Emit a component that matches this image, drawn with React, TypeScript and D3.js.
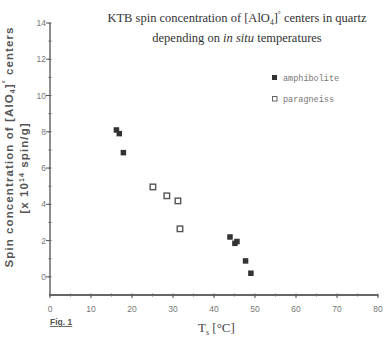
import React from "react";
import * as d3 from "d3";

// amphibolite (filled squares): [Ts °C, spin conc. x10^14]
const amphT = [16.2, 16.9, 17.9, 43.9, 45.1, 45.6, 47.7, 49.0];
const amphC = [8.1, 7.9, 6.85, 2.2, 1.85, 1.95, 0.88, 0.2];
// paragneiss (open squares)
const paraT = [25.1, 28.5, 31.2, 31.7];
const paraC = [4.96, 4.47, 4.19, 2.65];

const xTicks = [0, 10, 20, 30, 40, 50, 60, 70, 80];
const yTicks = [0, 2, 4, 6, 8, 10, 12, 14];

const W = 386;
const H = 340;

const App = () => {
    const x = d3.scaleLinear().domain([0, 80]).range([50, 378]);
    const y = d3.scaleLinear().domain([-1, 14]).range([295, 23]);

    const xMinor = d3.range(0, 81, 5);
    const yMinor = d3.range(0, 15, 1);
    const sz = 5.5;
    const sans = "'Liberation Sans', Arial, sans-serif";
    const serif = "'Liberation Serif', 'Times New Roman', serif";
    const mono = "'Liberation Mono', 'DejaVu Sans Mono', monospace";

    return (
        <svg width={W} height={H} style={{ position: "absolute", left: 0, top: 0, background: "#fff" }}>
            {/* title */}
            <text x={237} y={22} textAnchor="middle" fontFamily={serif} fontSize={12.5} fill="#333">
                KTB spin concentration of [AlO
                <tspan fontSize={7.5} dy={3}>4</tspan>
                <tspan dy={-3}>]</tspan>
                <tspan fontSize={7.5} dy={-5}>°</tspan>
                <tspan dy={5}> centers in quartz</tspan>
            </text>
            <text x={237} y={42} textAnchor="middle" fontFamily={serif} fontSize={12.5} fill="#333">
                depending on <tspan fontStyle="italic">in situ</tspan> temperatures
            </text>

            {/* y axis */}
            <line x1={x(0)} x2={x(0)} y1={y(14)} y2={y(-1)} stroke="#444" strokeWidth={1.2} />
            {yMinor.map(v => (
                <line key={"ym" + v} x1={x(0) - 1.5} x2={x(0) + 1.5} y1={y(v)} y2={y(v)} stroke="#666" strokeWidth={1} />
            ))}
            {yTicks.map(v => (
                <g key={"y" + v}>
                    <line x1={x(0) - 4} x2={x(0)} y1={y(v)} y2={y(v)} stroke="#555" strokeWidth={1} />
                    <text x={x(0) - 4} y={y(v) + 3} textAnchor="end" fontFamily={sans} fontSize={8.5} fill="#777">
                        {v}
                    </text>
                </g>
            ))}

            {/* x axis */}
            <line x1={x(0) - 1} x2={x(80)} y1={y(-1)} y2={y(-1)} stroke="#333" strokeWidth={1.6} />
            {xMinor.map(v => (
                <line key={"xm" + v} x1={x(v)} x2={x(v)} y1={y(-1) - 1.5} y2={y(-1) + 1.5} stroke="#666" strokeWidth={1} />
            ))}
            {xTicks.map(v => (
                <g key={"x" + v}>
                    <line x1={x(v)} x2={x(v)} y1={y(-1)} y2={y(-1) + 3} stroke="#555" strokeWidth={1} />
                    <text x={x(v)} y={312} textAnchor="middle" fontFamily={sans} fontSize={8.5} fill="#777">
                        {v}
                    </text>
                </g>
            ))}

            {/* axis labels */}
            <text
                transform="translate(13,147) rotate(-90)"
                textAnchor="middle"
                fontFamily={sans}
                fontSize={11.5}
                fontWeight="bold"
                letterSpacing={1.1}
                fill="#555"
            >
                Spin concentration of [AlO
                <tspan fontSize={7} dy={2}>4</tspan>
                <tspan dy={-2}>]</tspan>
                <tspan fontSize={7} dy={-5}>°</tspan>
                <tspan dy={5}> centers</tspan>
            </text>
            <text
                transform="translate(28,168) rotate(-90)"
                textAnchor="middle"
                fontFamily={sans}
                fontSize={11.5}
                fontWeight="bold"
                letterSpacing={1.1}
                fill="#555"
            >
                [x 10
                <tspan fontSize={7} dy={-4}>14</tspan>
                <tspan dy={4}> spin/g]</tspan>
            </text>
            <text x={198} y={332} fontFamily={serif} fontSize={13} fill="#444">
                T<tspan fontSize={8} dy={3}>s</tspan>
                <tspan dy={-3}> [°C]</tspan>
            </text>
            <text x={50} y={325} fontFamily={sans} fontSize={8.5} fontWeight="bold" fill="#555" textDecoration="underline">
                Fig. 1
            </text>

            {/* points */}
            {paraT.map((t, i) => (
                <rect
                    key={"p" + i}
                    x={x(t) - sz / 2}
                    y={y(paraC[i]) - sz / 2}
                    width={sz}
                    height={sz}
                    fill="#fff"
                    stroke="#555"
                    strokeWidth={1.4}
                />
            ))}
            {amphT.map((t, i) => (
                <rect
                    key={"a" + i}
                    x={x(t) - sz / 2}
                    y={y(amphC[i]) - sz / 2}
                    width={sz}
                    height={sz}
                    fill="#333"
                />
            ))}

            {/* legend */}
            <rect x={272} y={75} width={5} height={5} fill="#333" />
            <text x={283} y={81} fontFamily={mono} fontSize={8.5} fill="#777">
                amphibolite
            </text>
            <rect x={272.5} y={96.5} width={4.5} height={4.5} fill="#fff" stroke="#666" strokeWidth={1} />
            <text x={283} y={102} fontFamily={mono} fontSize={8.5} fill="#777">
                paragneiss
            </text>
        </svg>
    );
};

export default App;
